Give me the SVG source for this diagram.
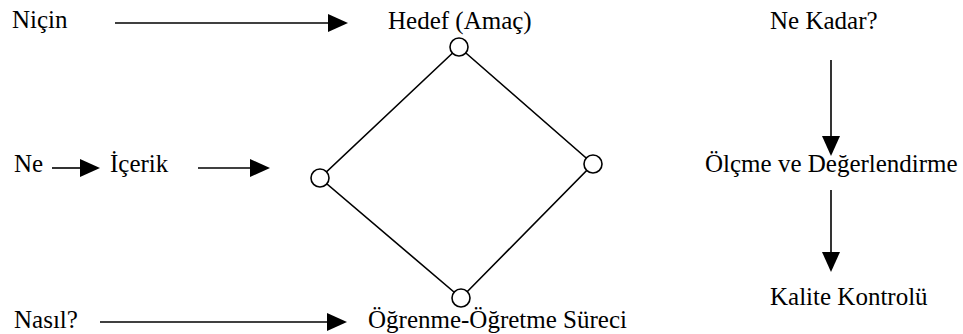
<svg xmlns="http://www.w3.org/2000/svg" width="963" height="334" viewBox="0 0 963 334">
<rect width="963" height="334" fill="#fff"/>
<g id="connectors" stroke="#000" stroke-width="1.6" fill="none">
<line x1="115" y1="23" x2="330" y2="23"/>
<line x1="52" y1="168" x2="82" y2="168"/>
<line x1="198" y1="168" x2="252" y2="168"/>
<line x1="100" y1="322" x2="329" y2="322"/>
<line x1="831" y1="60" x2="831" y2="138"/>
<line x1="831" y1="190" x2="831" y2="254"/>
<polygon points="459,47 593,164 461,298 320,178"/>
<g fill="#000" stroke="none">
<polygon points="328,14 348,23 328,32"/>
<polygon points="80,159 100,168 80,177"/>
<polygon points="250,159 270,168 250,177"/>
<polygon points="327,313 347,322 327,331"/>
<polygon points="822,136 831,156 840,136"/>
<polygon points="822,252 831,272 840,252"/>
</g>
</g>
<g id="n-nicin"><text font-family="Liberation Serif" font-size="25" x="12" y="28">Niçin</text></g>
<g id="n-hedef"><text font-family="Liberation Serif" font-size="25" x="388" y="29">Hedef (Amaç)</text><circle cx="459" cy="47" r="9" fill="#fff" stroke="#000" stroke-width="1.6"/></g>
<g id="n-nekadar"><text font-family="Liberation Serif" font-size="25" x="770" y="29">Ne Kadar?</text></g>
<g id="n-ne"><text font-family="Liberation Serif" font-size="25" x="14" y="172">Ne</text></g>
<g id="n-icerik"><text font-family="Liberation Serif" font-size="25" x="110" y="172">İçerik</text></g>
<g id="n-left"><circle cx="320" cy="178" r="9" fill="#fff" stroke="#000" stroke-width="1.6"/></g>
<g id="n-right"><circle cx="593" cy="164" r="9" fill="#fff" stroke="#000" stroke-width="1.6"/></g>
<g id="n-olcme"><text font-family="Liberation Serif" font-size="25" x="705" y="172">Ölçme ve Değerlendirme</text></g>
<g id="n-kalite"><text font-family="Liberation Serif" font-size="25" x="770" y="305">Kalite Kontrolü</text></g>
<g id="n-nasil"><text font-family="Liberation Serif" font-size="25" x="14" y="328">Nasıl?</text></g>
<g id="n-ogrenme"><text font-family="Liberation Serif" font-size="25" x="368" y="328">Öğrenme-Öğretme Süreci</text><circle cx="461" cy="298" r="9" fill="#fff" stroke="#000" stroke-width="1.6"/></g>
</svg>
